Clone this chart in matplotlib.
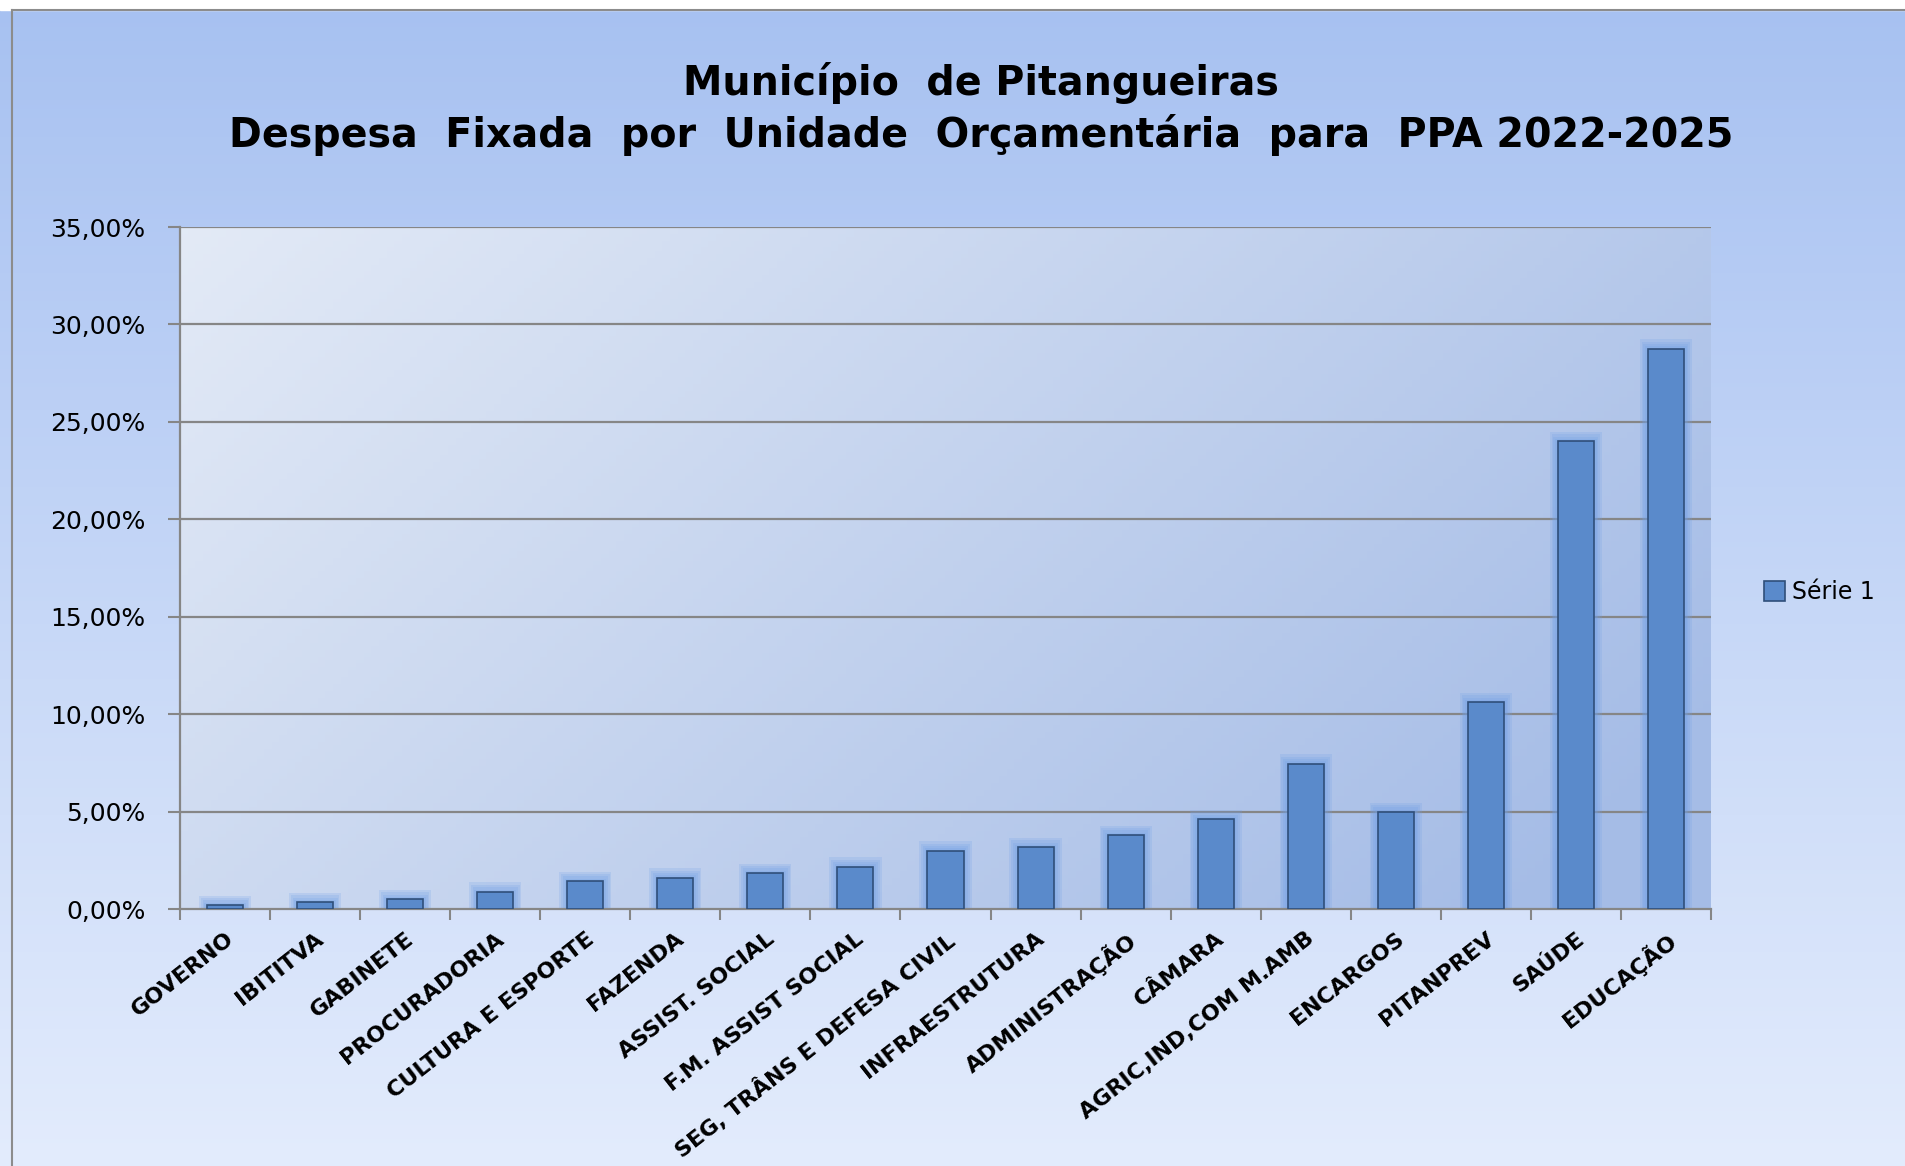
import numpy as np
import matplotlib
matplotlib.use("Agg")
import matplotlib.pyplot as plt
from matplotlib.patches import Rectangle
from matplotlib.ticker import FuncFormatter, FixedLocator

# dados
unidades = ["GOVERNO", "IBITITVA", "GABINETE", "PROCURADORIA", "CULTURA E ESPORTE",
            "FAZENDA", "ASSIST. SOCIAL", "F.M. ASSIST SOCIAL", "SEG, TRÂNS E DEFESA CIVIL",
            "INFRAESTRUTURA", "ADMINISTRAÇÃO", "CÂMARA", "AGRIC,IND,COM M.AMB",
            "ENCARGOS", "PITANPREV", "SAÚDE", "EDUCAÇÃO"]
percentuais = [0.2, 0.35, 0.5, 0.88, 1.43, 1.6, 1.85, 2.17, 3.0,
               3.17, 3.8, 4.6, 7.45, 4.97, 10.6, 24.0, 28.75]
y_ticks = [0, 5, 10, 15, 20, 25, 30, 35]
titulo_1 = "Município  de Pitangueiras"
titulo_2 = "Despesa  Fixada  por  Unidade  Orçamentária  para  PPA 2022-2025"
serie = "Série 1"

W, H = 1905, 1166
fig = plt.figure(figsize=(W / 100, H / 100), dpi=100)

# fundo da figura em degradê
bg = fig.add_axes([0, 0, 1, 1], zorder=-10)
grad = np.linspace(0, 1, 256).reshape(-1, 1)
top_c = np.array([0.655, 0.757, 0.945])
bot_c = np.array([0.890, 0.925, 0.990])
img = top_c * (1 - grad[..., None]) + bot_c * grad[..., None]
bg.imshow(img, aspect="auto", extent=[0, 1, 0, 1], origin="upper")
bg.add_patch(Rectangle((0, 0.991), 1, 0.01, color="white", transform=bg.transAxes))
bg.plot([12 / W, 12 / W], [0, 0.991], color="#8c8c8c", lw=1.5)
bg.plot([12 / W, 1], [0.991, 0.991], color="#8c8c8c", lw=1.5)
bg.set_xlim(0, 1); bg.set_ylim(0, 1)
bg.axis("off")

ax = fig.add_axes([180 / W, 257 / H, (1711 - 180) / W, (909 - 227) / H])
n = len(unidades)
x = np.arange(n)

# fundo da área de plotagem em degradê diagonal
gx, gy = np.meshgrid(np.linspace(0, 1, 200), np.linspace(0, 1, 200))
t = np.clip(0.75 * gx + 0.35 * gy, 0, 1)[..., None]
c0 = np.array([0.890, 0.918, 0.965])
c1 = np.array([0.650, 0.740, 0.905])
ax.imshow(c0 * (1 - t) + c1 * t, aspect="auto", extent=[-0.5, n - 0.5, 0, 35],
          origin="upper", zorder=0)

for v in y_ticks[1:]:
    ax.axhline(v, color="#868686", lw=1.6, zorder=1)

# brilho em volta das barras
for k in range(4):
    ax.bar(x, np.array(percentuais) + 0.12 * (k + 1), width=0.42 + 0.04 * (k + 1),
           color="#6f9fe6", alpha=0.2, lw=0, zorder=2)
ax.bar(x, percentuais, width=0.4, color="#5a8acb", edgecolor="#2f4f7a", lw=1.2, zorder=3,
       label=serie)

ax.set_xlim(-0.5, n - 0.5)
ax.set_ylim(0, 35)
ax.yaxis.set_major_locator(FixedLocator(y_ticks))
ax.yaxis.set_major_formatter(FuncFormatter(lambda v, p: f"{v:.2f}".replace(".", ",") + "%"))
ax.set_xticks(x)
ax.set_xticklabels(unidades, rotation=38, ha="right", rotation_mode="anchor",
                   fontsize=16, fontweight="bold")
ax.set_xticks(np.arange(n + 1) - 0.5, minor=True)
ax.tick_params(axis="x", which="major", length=0, pad=14)
ax.tick_params(axis="x", which="minor", length=8, color="#868686", width=1.5)
ax.tick_params(axis="y", length=9, color="#868686", width=1.5, labelsize=18, pad=16)
for s in ["top", "right"]:
    ax.spines[s].set_visible(False)
for s in ["left", "bottom"]:
    ax.spines[s].set_color("#868686")
    ax.spines[s].set_linewidth(1.6)

fig.text(981 / W, 1 - 83 / H, titulo_1, ha="center", va="center",
         fontsize=28.5, fontweight="bold", family="DejaVu Sans")
fig.text(981 / W, 1 - 135 / H, titulo_2, ha="center", va="center",
         fontsize=28.5, fontweight="bold", family="DejaVu Sans")

fig.legend(loc="center left", bbox_to_anchor=(1764 / W, 1 - 592 / H), frameon=False,
           fontsize=17, handlelength=0.9, handleheight=0.9, handletextpad=0.3,
           borderpad=0, borderaxespad=0)

fig.savefig("out.png", dpi=100)
